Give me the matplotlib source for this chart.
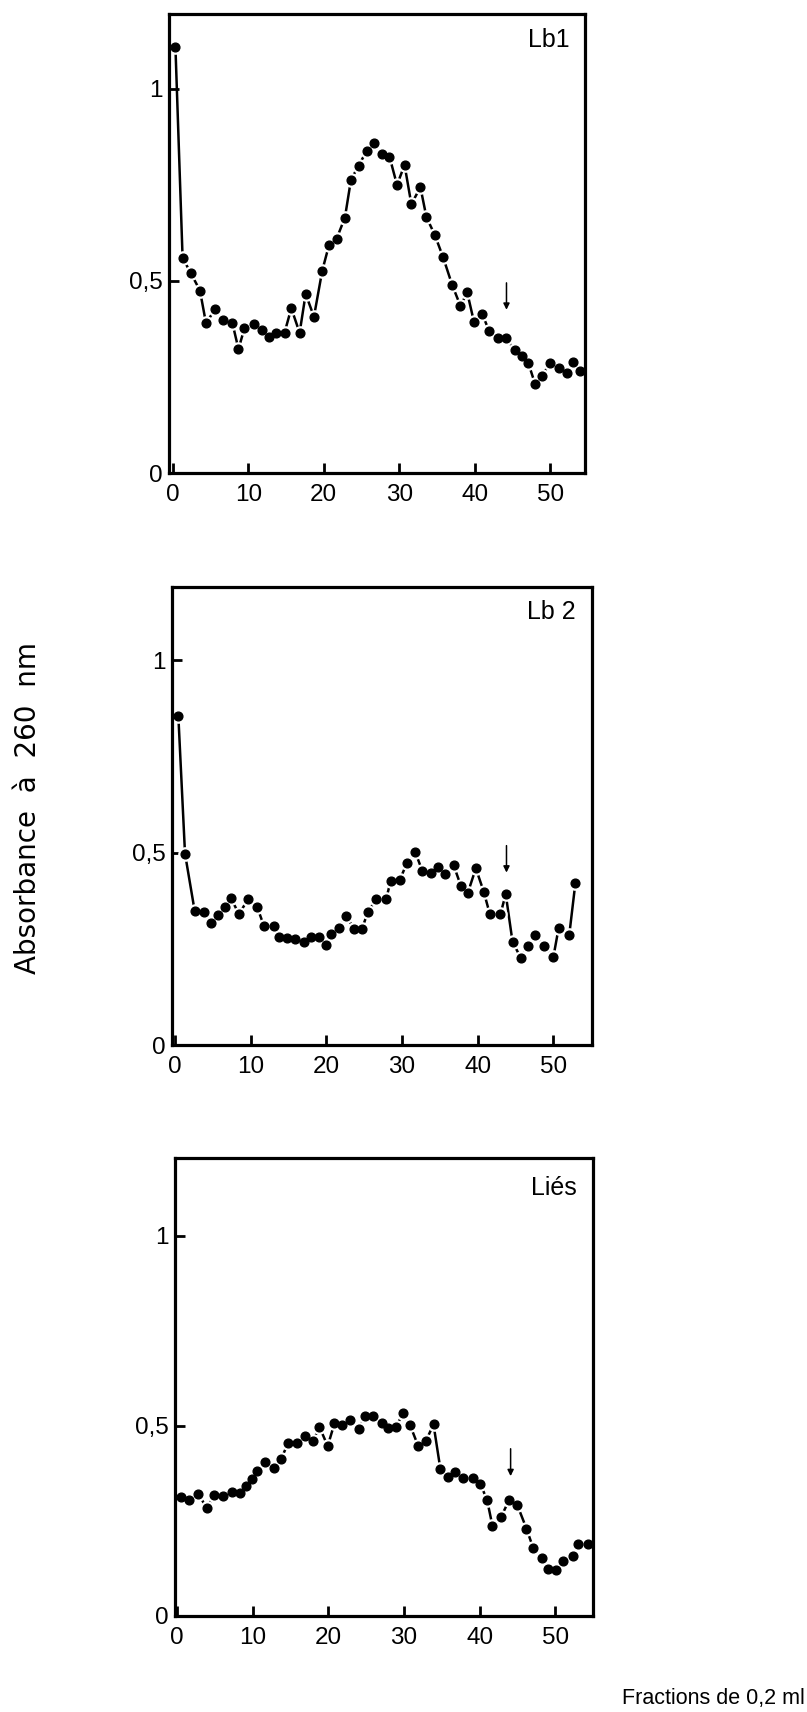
import matplotlib
matplotlib.use('Agg')
from matplotlib import pyplot as plt

plt.rcParams['font.family'] = ['Liberation Sans', 'DejaVu Sans']

# fractions (x) and absorbance at 260 nm (y)
lb1_x = [0.35, 1.3, 2.4, 3.6, 4.4, 5.6, 6.7, 7.9, 8.7, 9.5, 10.8, 11.8, 12.8, 13.7,
         14.8, 15.7, 16.8, 17.6, 18.7, 19.8, 20.7, 21.7, 22.8, 23.6, 24.6, 25.7, 26.6,
         27.7, 28.7, 29.7, 30.7, 31.6, 32.8, 33.6, 34.7, 35.8, 37.0, 38.1, 39.0, 39.9,
         41.0, 41.9, 43.1, 44.2, 45.3, 46.2, 47.1, 48.0, 48.9, 50.0, 51.1, 52.2, 53.0, 54.0]
lb1_y = [1.11, 0.56, 0.52, 0.475, 0.39, 0.426, 0.398, 0.39, 0.323, 0.377, 0.388, 0.372,
         0.355, 0.365, 0.365, 0.429, 0.365, 0.466, 0.407, 0.527, 0.594, 0.61, 0.665,
         0.763, 0.80, 0.839, 0.858, 0.83, 0.824, 0.75, 0.802, 0.70, 0.744, 0.666, 0.62,
         0.562, 0.49, 0.435, 0.47, 0.393, 0.413, 0.37, 0.351, 0.351, 0.319, 0.305,
         0.286, 0.231, 0.253, 0.287, 0.273, 0.26, 0.29, 0.266]

lb2_x = [0.44, 1.32, 2.6, 3.8, 4.7, 5.7, 6.55, 7.35, 8.45, 9.65, 10.85, 11.75, 13.05,
         13.7, 14.8, 15.9, 17.0, 18.0, 19.0, 19.9, 20.6, 21.7, 22.6, 23.7, 24.7, 25.5,
         26.6, 27.9, 28.5, 29.7, 30.65, 31.75, 32.7, 33.8, 34.7, 35.7, 36.8, 37.8, 38.7,
         39.75, 40.8, 41.6, 43.0, 43.7, 44.6, 45.7, 46.6, 47.6, 48.8, 50.0, 50.7, 52.1, 52.9]
lb2_y = [0.854, 0.497, 0.348, 0.346, 0.318, 0.337, 0.359, 0.383, 0.34, 0.379, 0.359,
         0.309, 0.309, 0.281, 0.277, 0.276, 0.268, 0.28, 0.28, 0.26, 0.289, 0.305, 0.334,
         0.302, 0.302, 0.346, 0.379, 0.379, 0.427, 0.429, 0.473, 0.501, 0.451, 0.447,
         0.462, 0.444, 0.468, 0.412, 0.396, 0.459, 0.398, 0.34, 0.34, 0.392, 0.268, 0.226,
         0.257, 0.285, 0.257, 0.229, 0.305, 0.287, 0.42]

lies_x = [0.44, 1.6, 2.8, 3.9, 4.85, 6.1, 7.25, 8.3, 9.1, 9.9, 10.6, 11.6, 12.75, 13.7,
          14.7, 15.8, 16.9, 18.0, 18.8, 19.9, 20.8, 21.8, 22.9, 24.0, 24.8, 25.9, 27.1,
          27.9, 29.0, 29.8, 30.8, 31.9, 32.9, 33.9, 34.8, 35.8, 36.8, 37.8, 39.1, 40.1,
          41.0, 41.7, 42.85, 43.9, 45.0, 46.2, 47.1, 48.2, 49.0, 50.1, 51.0, 52.3, 52.95, 54.3]
lies_y = [0.313, 0.305, 0.322, 0.283, 0.318, 0.316, 0.325, 0.323, 0.342, 0.36, 0.382,
          0.405, 0.39, 0.412, 0.456, 0.456, 0.474, 0.461, 0.498, 0.447, 0.507, 0.502,
          0.515, 0.491, 0.526, 0.525, 0.509, 0.494, 0.498, 0.533, 0.502, 0.446, 0.461,
          0.504, 0.388, 0.366, 0.38, 0.364, 0.364, 0.348, 0.304, 0.237, 0.261, 0.305,
          0.291, 0.23, 0.178, 0.152, 0.123, 0.121, 0.145, 0.158, 0.189, 0.189]

names = ['Lb1', 'Lb 2', 'Liés']
xs = [lb1_x, lb2_x, lies_x]
ys = [lb1_y, lb2_y, lies_y]

# arrow marking fraction 44 (start, end of arrow in absorbance units)
arrow_x = [44.2, 43.8, 44.1]
arrow_top = [0.495, 0.518, 0.44]
arrow_tip = [0.425, 0.448, 0.368]

x_ticks = [0, 10, 20, 30, 40, 50]
y_ticks = [0, 0.5, 1]
y_ticklabels = ['0', '0,5', '1']

W, H = 807, 1712
fig = plt.figure(figsize=(W / 100, H / 100), dpi=100)

# axes boxes in pixels: left, right, top, bottom
boxes = [(169, 585, 14, 473), (172, 592, 587, 1045), (175, 593, 1158, 1616)]
xlims = [(-0.5, 54.6), (-0.4, 55.1), (-0.3, 55.0)]
ytops = [1.195, 1.19, 1.205]
label_pos = [(0.964, 0.928), (0.960, 0.930), (0.962, 0.919)]

for i in range(3):
    l, r, t, b = boxes[i]
    ax = fig.add_axes((l / W, 1 - b / H, (r - l) / W, (b - t) / H))
    # white halo under each dot gives the broken-line look
    ax.plot(xs[i], ys[i], '-', color='k', lw=1.8, marker='o', ms=9.5,
            mfc='white', mec='white', solid_capstyle='butt')
    ax.plot(xs[i], ys[i], 'o', color='k', ms=6.3, ls='none')
    ax.annotate('', xy=(arrow_x[i], arrow_tip[i]), xytext=(arrow_x[i], arrow_top[i]),
                arrowprops=dict(arrowstyle='-|>', color='k', lw=1.1, mutation_scale=9,
                                shrinkA=0, shrinkB=0))
    ax.set_xlim(*xlims[i])
    ax.set_ylim(0, ytops[i])
    ax.set_xticks(x_ticks)
    ax.set_yticks(y_ticks)
    ax.set_yticklabels(y_ticklabels)
    ax.tick_params(direction='in', length=7, width=2, labelsize=17.5, colors='k')
    ax.tick_params(axis='x', pad=8)
    ax.tick_params(axis='y', pad=4.5)
    for s in ax.spines.values():
        s.set_linewidth(2.3)
    ax.text(label_pos[i][0], label_pos[i][1], names[i], transform=ax.transAxes,
            ha='right', va='baseline', fontsize=18)

fig.text(28 / W, 1 - 808 / H, 'Absorbance  à  260  nm', rotation=90,
         ha='center', va='center', fontsize=20, family='DejaVu Sans')
fig.text(622 / W, 1 - 1704 / H, 'Fractions de 0,2 ml', ha='left', va='baseline',
         fontsize=15.5)

plt.savefig('out.png', dpi=100)
